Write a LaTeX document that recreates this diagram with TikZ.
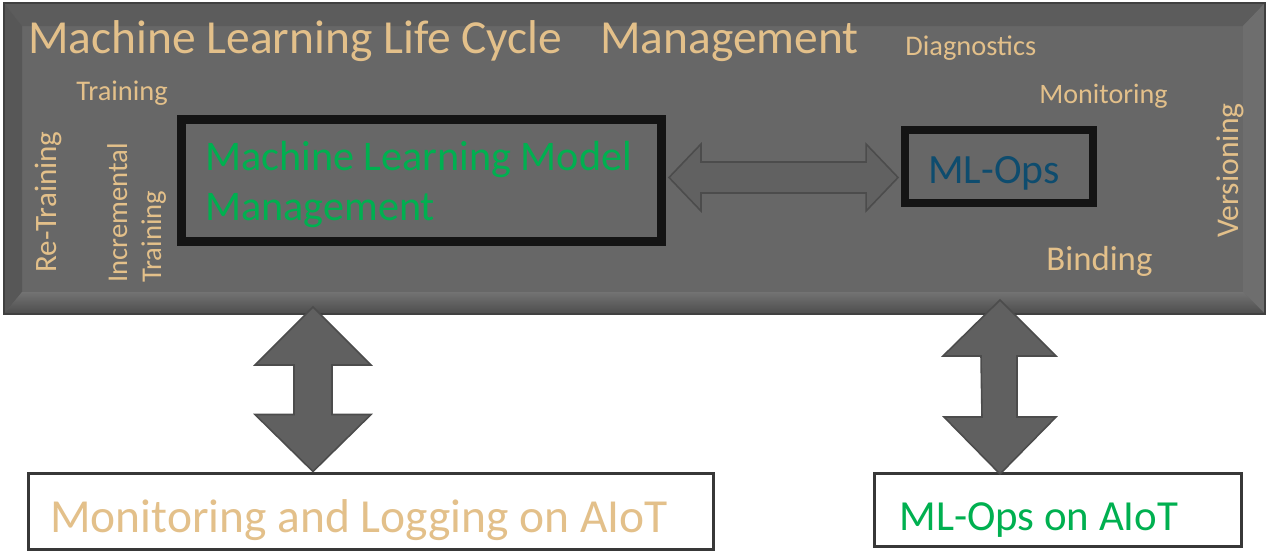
\documentclass[tikz,border=0pt]{standalone}
\usepackage{fontspec}
\setmainfont{Carlito}
\usetikzlibrary{calc}
\definecolor{tanc}{HTML}{E3C08A}
\definecolor{grn}{HTML}{00B050}
\definecolor{blu}{HTML}{0E4C6E}
\definecolor{face}{HTML}{676767}
\definecolor{arrowfill}{HTML}{606060}
\newcommand\fsz[1]{\fontsize{#1}{#1}\selectfont}
\begin{document}
\begin{tikzpicture}[x=0.02cm,y=-0.02cm,
  lbl/.style={inner sep=0,anchor=base west,text=tanc},
  innerbox/.style={draw=black!92,line width=5.1pt,inner sep=0},
  whitebox/.style={draw=black!78,fill=white,line width=1.7pt,inner sep=0},
  blockarrow/.style={fill=arrowfill,draw=black!70,line width=0.9pt,line join=miter},
  harrow/.style={fill=black!62,draw=black!70,line width=0.9pt}]
\useasboundingbox (0,0) rectangle (1268,552);
% ---------- main bevelled panel ----------
\fill[face] (4,3) rectangle (1265,314);
\fill[black!64] (4,3) -- (1265,3) -- (1243,26) -- (22,26) -- cycle;
\fill[black!66] (4,3) -- (22,26) -- (22,292) -- (4,314) -- cycle;
\fill[black!57] (1265,3) -- (1265,314) -- (1243,292) -- (1243,26) -- cycle;
\shade[top color=black!55,middle color=black!33,bottom color=black!70]
  (4,314) -- (1265,314) -- (1243,292) -- (22,292) -- cycle;
\draw[black!75,line width=1.2pt] (4,3) rectangle (1265,314);
\node[inner sep=0,minimum width={1261*0.02cm},minimum height={311*0.02cm}] (main) at (634.5,158.5) {};
% ---------- labels on the panel ----------
\node[lbl,font=\fsz{27}] (title) at (28,53) {Machine Learning Life Cycle\hspace{0.8em}Management};
\node[lbl,font=\fsz{16.2}] (diag) at (905,55) {Diagnostics};
\node[lbl,font=\fsz{16}] (mon) at (1039,103) {Monitoring};
\node[lbl,font=\fsz{16.2}] (train) at (76,100) {Training};
\node[lbl,font=\fsz{19.8}] (bind) at (1046,270) {Binding};
\node[lbl,font=\fsz{17.7},rotate=90] (retrain) at (56,273) {Re-Training};
\node[lbl,font=\fsz{16.3},rotate=90] (incr1) at (127,283) {Incremental};
\node[lbl,font=\fsz{16.3},rotate=90] (incr2) at (161,283) {Training};
\node[lbl,font=\fsz{18},rotate=90] (vers) at (1238,238) {Versioning};
% ---------- inner boxes ----------
\node[innerbox,minimum width={480*0.02cm},minimum height={122*0.02cm}] (mlm) at (421.5,180.5) {};
\node[lbl,text=grn,font=\fsz{24}] (mlm1) at (205,170) {Machine Learning Model};
\node[lbl,text=grn,font=\fsz{24}] (mlm2) at (205,220) {Management};
\node[innerbox,line width=4.5pt,minimum width={188*0.02cm},minimum height={73*0.02cm}] (ops) at (999,166.5) {};
\node[lbl,text=blu,font=\fsz{23.7}] (opst) at (928,183) {ML-Ops};
% ---------- horizontal double arrow ----------
\coordinate (hl) at ($(mlm.east)+(3,-3)$);
\coordinate (hr) at ($(ops.west)+(-3,11)$);
\path[harrow] (hl) -- ++(32,-33.5) -- ++(0,18) -- ($(hr)+(-32,-15.5)$) -- ++(0,-18)
  -- (hr) -- ++(-32,33.5) -- ++(0,-18) -- ($(hl)+(32,15.5)$) -- ++(0,18) -- cycle;
% ---------- bottom boxes ----------
\node[whitebox,minimum width={685*0.02cm},minimum height={76*0.02cm}] (mlog) at (371,511) {};
\node[lbl,font=\fsz{27}] (mlogt) at (50,532) {Monitoring and Logging on AIoT};
\node[whitebox,minimum width={367*0.02cm},minimum height={73*0.02cm}] (opsiot) at (1058,510) {};
\node[lbl,text=grn,font=\fsz{24.4}] (opsiott) at (899,530) {ML-Ops on AIoT};
% ---------- vertical double arrows ----------
\coordinate (a1) at (313,307);
\coordinate (b1) at (mlog.north -| a1);
\path[blockarrow] (a1) -- ++(58,58) -- ++(-39,0) -- ($(b1)+(19,-57)$) -- ++(39,0) -- (b1)
  -- ++(-58,-57) -- ++(39,0) -- ($(a1)+(-19,58)$) -- ++(-39,0) -- cycle;
\coordinate (a2) at (1000,300);
\coordinate (b2) at ($(opsiot.north -| a2)+(0,2)$);
\path[blockarrow] (a2) -- ++(56,56) -- ++(-39,0) -- ($(b2)+(17,-57)$) -- ++(39,0) -- (b2)
  -- ++(-56,-57) -- ++(38,0) -- ($(a2)+(-19,56)$) -- ++(-38,0) -- cycle;
\end{tikzpicture}
\end{document}
